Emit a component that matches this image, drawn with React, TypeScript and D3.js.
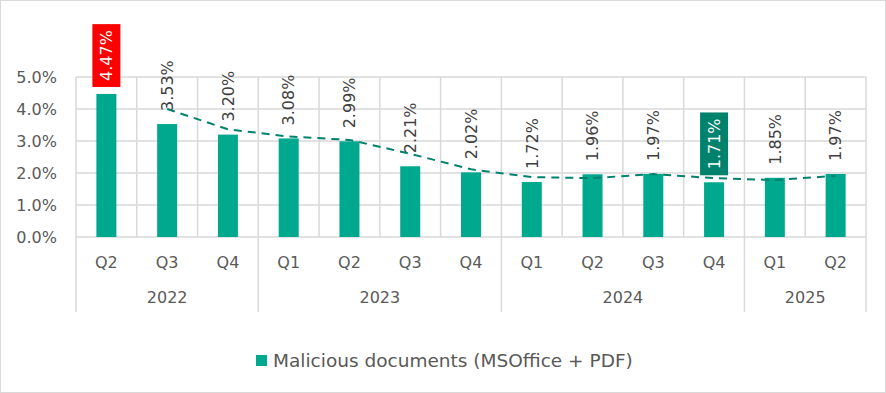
import React, { useEffect, useRef } from 'react';
import * as d3 from 'd3';

// quarterly share of malicious documents
const quarters = ['Q2', 'Q3', 'Q4', 'Q1', 'Q2', 'Q3', 'Q4', 'Q1', 'Q2', 'Q3', 'Q4', 'Q1', 'Q2'];
const categoryYears = ['2022', '2022', '2022', '2023', '2023', '2023', '2023', '2024', '2024', '2024', '2024', '2025', '2025'];
const values = [4.47, 3.53, 3.2, 3.08, 2.99, 2.21, 2.02, 1.72, 1.96, 1.97, 1.71, 1.85, 1.97];
const yTicks = [0, 1, 2, 3, 4, 5];
const seriesName = 'Malicious documents (MSOffice + PDF)';
// labels drawn on a filled box: category index -> box colour
const highlighted: { [key: number]: string } = { 0: '#FF0000', 10: '#00826D' };
const trendPeriod = 2; // moving average trendline

const W = 886;
const H = 393;
const FONT = '"DejaVu Sans", sans-serif';
const TEXT = '#595959';
const GRID = '#D9D9D9';
const BAR = '#00A88E';
const TREND = '#00826D';

const App = () => {
  const ref = useRef<SVGSVGElement | null>(null);

  useEffect(() => {
    const svg = d3.select(ref.current);
    svg.selectAll('*').remove();

    const x = d3
      .scaleBand<number>()
      .domain(values.map((_, i) => i))
      .range([76, 866])
      .padding(0);
    const y = d3.scaleLinear().domain([0, 5]).range([237, 77]);
    const cx = (i: number) => (x(i) as number) + x.bandwidth() / 2;
    const barW = 20;

    // outer border
    svg
      .append('rect')
      .attr('x', 0.5)
      .attr('y', 0.5)
      .attr('width', W - 1)
      .attr('height', H - 1)
      .attr('fill', '#fff')
      .attr('stroke', GRID);

    const grid = svg.append('g').attr('stroke', GRID).attr('stroke-width', 1.5);
    yTicks.forEach((t) => {
      grid.append('line').attr('x1', 76).attr('x2', 866).attr('y1', y(t)).attr('y2', y(t));
    });
    d3.range(values.length + 1).forEach((i) => {
      const xx = i < values.length ? (x(i) as number) : 866;
      grid.append('line').attr('x1', xx).attr('x2', xx).attr('y1', y(5)).attr('y2', y(0));
    });

    // year separators below the axis
    const yearStarts = d3.range(values.length).filter((i) => i === 0 || categoryYears[i] !== categoryYears[i - 1]);
    [...yearStarts, values.length].forEach((i) => {
      const xx = i < values.length ? (x(i) as number) : 866;
      grid.append('line').attr('x1', xx).attr('x2', xx).attr('y1', y(0)).attr('y2', 312);
    });

    // y axis labels
    svg
      .append('g')
      .selectAll('text')
      .data(yTicks)
      .join('text')
      .attr('x', 57)
      .attr('y', (d) => y(d))
      .attr('dy', '0.35em')
      .attr('text-anchor', 'end')
      .attr('font-family', FONT)
      .attr('font-size', 16)
      .attr('fill', TEXT)
      .text((d) => d3.format('.1f')(d) + '%');

    // bars
    svg
      .append('g')
      .selectAll('rect')
      .data(values)
      .join('rect')
      .attr('x', (_, i) => cx(i) - barW / 2)
      .attr('y', (d) => y(d))
      .attr('width', barW)
      .attr('height', (d) => y(0) - y(d))
      .attr('fill', BAR);

    // moving average trendline
    const trend = d3.range(trendPeriod - 1, values.length).map((i) => ({
      i,
      v: d3.mean(values.slice(i - trendPeriod + 1, i + 1)) as number,
    }));
    svg
      .append('path')
      .datum(trend)
      .attr('fill', 'none')
      .attr('stroke', TREND)
      .attr('stroke-width', 2)
      .attr('stroke-dasharray', '8,6')
      .attr(
        'd',
        d3
          .line<{ i: number; v: number }>()
          .x((d) => cx(d.i))
          .y((d) => y(d.v))
      );

    // data labels (rotated)
    const labels = svg.append('g');
    values.forEach((v, i) => {
      const g = labels.append('g').attr('transform', `translate(${cx(i)},${y(v) - 13}) rotate(-90)`);
      const t = g
        .append('text')
        .attr('x', 0)
        .attr('y', 0)
        .attr('dy', '0.36em')
        .attr('font-family', FONT)
        .attr('font-size', 16)
        .attr('fill', highlighted[i] ? '#fff' : '#404040')
        .text(d3.format('.2f')(v) + '%');
      if (highlighted[i]) {
        const len = (t.node() as SVGTextElement).getComputedTextLength();
        g.insert('rect', 'text')
          .attr('x', -6)
          .attr('y', -14)
          .attr('width', len + 12)
          .attr('height', 28)
          .attr('fill', highlighted[i]);
      }
    });

    // category labels
    svg
      .append('g')
      .selectAll('text')
      .data(quarters)
      .join('text')
      .attr('x', (_, i) => cx(i))
      .attr('y', 262)
      .attr('dy', '0.35em')
      .attr('text-anchor', 'middle')
      .attr('font-family', FONT)
      .attr('font-size', 16)
      .attr('fill', TEXT)
      .text((d) => d);

    yearStarts.forEach((s, k) => {
      const e = k + 1 < yearStarts.length ? yearStarts[k + 1] : values.length;
      const x0 = x(s) as number;
      const x1 = e < values.length ? (x(e) as number) : 866;
      svg
        .append('text')
        .attr('x', (x0 + x1) / 2)
        .attr('y', 297)
        .attr('dy', '0.35em')
        .attr('text-anchor', 'middle')
        .attr('font-family', FONT)
        .attr('font-size', 16)
        .attr('fill', TEXT)
        .text(categoryYears[s]);
    });

    // legend
    const lg = svg.append('g').attr('transform', 'translate(256,355)');
    lg.append('rect').attr('width', 11).attr('height', 11).attr('fill', BAR);
    lg.append('text')
      .attr('x', 17)
      .attr('y', 5.5)
      .attr('dy', '0.35em')
      .attr('font-family', FONT)
      .attr('font-size', 18.5)
      .attr('fill', TEXT)
      .text(seriesName);
  }, []);

  return (
    <div style={{ position: 'absolute', left: 0, top: 0 }}>
      <svg ref={ref} width={W} height={H} style={{ display: 'block' }} />
    </div>
  );
};

export default App;
